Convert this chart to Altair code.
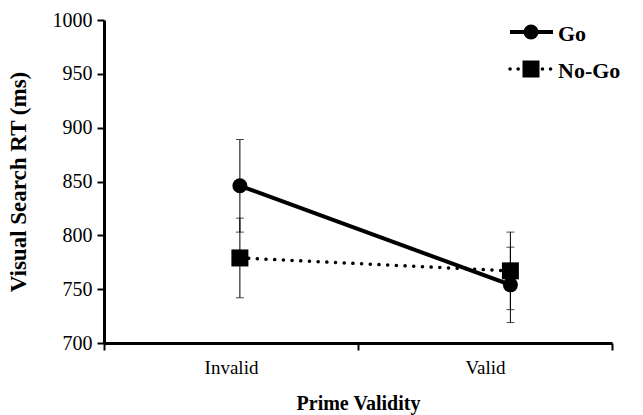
import altair as alt
import pandas as pd

# ---- data ----
conditions = ["Invalid", "Valid"]
x_pos = [0.535, 1.6]          # plotted position of each condition on the 0..2 axis
go_mean = [846, 754]
go_err = [43, 35]
nogo_mean = [779, 767]
nogo_err = [37, 36]
y_ticks = [700, 750, 800, 850, 900, 950, 1000]
series_names = ["Go", "No-Go"]

rows = []
for s, means, errs in [("Go", go_mean, go_err), ("No-Go", nogo_mean, nogo_err)]:
    for c, xp, m, e in zip(conditions, x_pos, means, errs):
        rows.append({"series": s, "cond": c, "x": xp, "mean": m,
                     "lo": m - e, "hi": m + e})
df = pd.DataFrame(rows)

FONT = "Liberation Serif"
W, H = 508, 323

common_axis = dict(grid=False, labelFont=FONT, titleFont=FONT, labelColor="black",
                   titleColor="black", domainColor="black", tickColor="black",
                   domainWidth=3, tickWidth=2, ticks=True, tickSize=7, domainOpacity=1,
                   titleFontWeight="bold")

x_enc = alt.X("x:Q", scale=alt.Scale(domain=[0, 2], nice=False, zero=False),
              axis=alt.Axis(values=[0, 0.5, 1, 1.5, 2],
                            labelExpr="datum.value == 0.5 ? 'Invalid' : (datum.value == 1.5 ? 'Valid' : '')",
                            tickOpacity={"condition": {"test": "datum.value == 0.5 || datum.value == 1.5", "value": 0}, "value": 1},
                            title="Prime Validity", labelPadding=8, titlePadding=16,
                            labelFontSize=19, titleFontSize=20, **common_axis))
y_scale = alt.Scale(domain=[700, 1000], nice=False, zero=False)
y_axis = alt.Axis(values=y_ticks, format="d", title="Visual Search RT (ms)",
                  labelPadding=5, titlePadding=22, labelFontSize=20, titleFontSize=23,
                  **common_axis)

base = alt.Chart(df)

err_rule = base.mark_rule(color="black", strokeWidth=1).encode(
    x=x_enc, y=alt.Y("lo:Q", scale=y_scale, axis=y_axis), y2="hi:Q")
cap_lo = base.mark_tick(orient="horizontal", color="black", size=8, thickness=1).encode(
    x=x_enc, y=alt.Y("lo:Q", scale=y_scale, axis=y_axis))
cap_hi = base.mark_tick(orient="horizontal", color="black", size=8, thickness=1).encode(
    x=x_enc, y=alt.Y("hi:Q", scale=y_scale, axis=y_axis))

go_line = base.transform_filter(alt.datum.series == "Go").mark_line(
    color="black", strokeWidth=4).encode(
    x=x_enc, y=alt.Y("mean:Q", scale=y_scale, axis=y_axis))
nogo_line = base.transform_filter(alt.datum.series == "No-Go").mark_line(
    color="black", strokeWidth=3.5, strokeDash=[0.1, 8.6], strokeCap="round").encode(
    x=x_enc, y=alt.Y("mean:Q", scale=y_scale, axis=y_axis))

points = base.mark_point(filled=True, color="black", opacity=1).encode(
    x=x_enc, y=alt.Y("mean:Q", scale=y_scale, axis=y_axis),
    shape=alt.Shape("series:N", scale=alt.Scale(domain=series_names, range=["circle", "square"]), legend=None),
    size=alt.Size("series:N", scale=alt.Scale(domain=series_names, range=[225, 289]), legend=None))

# ---- manual legend ----
leg = pd.DataFrame({"label": series_names})
def legend_entry(name, ypx, dashed, shape, size):
    d = alt.Chart(leg).transform_filter(alt.datum.label == name)
    if dashed:
        ln = d.mark_rule(color="black", strokeWidth=3.5, strokeDash=[0.1, 8], strokeCap="round")
    else:
        ln = d.mark_rule(color="black", strokeWidth=4)
    ln = ln.encode(x=alt.value(406), x2=alt.value(449), y=alt.value(ypx))
    pt = d.mark_point(filled=True, color="black", opacity=1, shape=shape, size=size).encode(
        x=alt.value(427), y=alt.value(ypx))
    tx = d.mark_text(align="left", baseline="middle", font=FONT, fontSize=22,
                     fontWeight="bold", color="black").encode(
        x=alt.value(454), y=alt.value(ypx + 2), text="label:N")
    return ln + pt + tx

legend = legend_entry("Go", 12, False, "circle", 225) + legend_entry("No-Go", 49, True, "square", 289)

chart = alt.layer(err_rule, cap_lo, cap_hi, go_line, nogo_line, points, legend).properties(
    width=W, height=H,
    autosize=alt.AutoSizeParams(type="none"),
    padding={"left": 104, "top": 20, "right": 31, "bottom": 72},
    background="white",
).configure_view(stroke=None)

chart.save("out.html", embed_options={"renderer": "svg", "actions": False})
